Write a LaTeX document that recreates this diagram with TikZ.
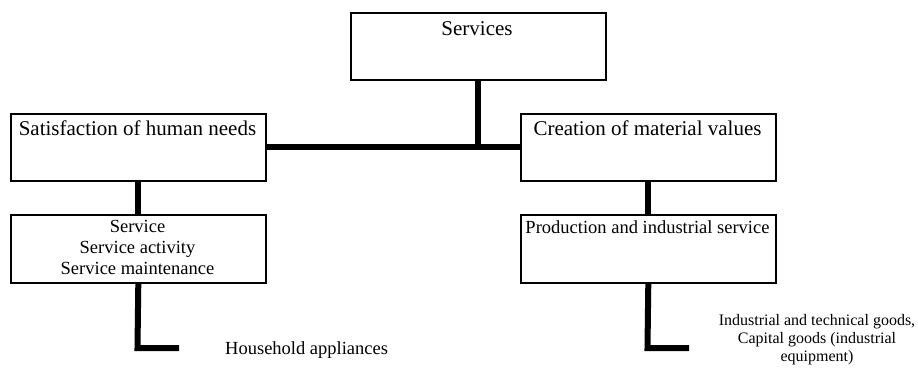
\documentclass[tikz,border=0pt]{standalone}
\usepackage{fontspec}
\setmainfont{Liberation Serif}
\begin{document}
\begin{tikzpicture}[x=1pt,y=-1pt,
  box/.style={draw, line width=1.6pt, minimum width=255pt, minimum height=67pt, inner sep=0pt, anchor=north west},
  big/.style={font=\fontsize{21}{24}\selectfont, inner sep=0pt, anchor=north},
  mid/.style={font=\fontsize{18.5}{21}\selectfont, inner sep=0pt, align=center, anchor=north},
  small/.style={font=\fontsize{16}{18}\selectfont, inner sep=0pt, align=center, anchor=north},
  conn/.style={line width=6pt}]
\useasboundingbox (0,0) rectangle (918,368);
% boxes
\node[box] (srv) at (350,12) {};
\node[box] (sat) at (10,113) {};
\node[box] (cre) at (520,113) {};
\node[box, minimum height=68pt] (svc) at (10,214) {};
\node[box, minimum height=68pt] (prd) at (520,214) {};
% box texts
\node[big] (srvt) at (477,21) {Services};
\node[big] (satt) at (137.5,121) {Satisfaction of human needs};
\node[big] (cret) at (647.5,121) {Creation of material values};
\node[mid] (svct) at (137.5,220) {Service\\Service activity\\Service maintenance};
\node[mid] (prdt) at (647.5,220) {Production and industrial service};
% connectors
\draw[conn] (srv.south) -- (srv.south |- sat.east);
\draw[conn] (sat.east) -- (cre.west);
\draw[conn] (sat.south) -- (svc.north);
\draw[conn] (cre.south) -- (prd.north);
\coordinate (l1) at (137.5,348);
\coordinate (l1e) at (179,348);
\coordinate (l2) at (647.5,348);
\coordinate (l2e) at (689,348);
\draw[conn] (svc.south) -- (l1) -- (l1e);
\draw[conn] (prd.south) -- (l2) -- (l2e);
% leaf texts
\node[mid, anchor=base west] (hh) at (225,354) {Household appliances};
\node[small] (ind) at (817,314) {Industrial and technical goods,\\Capital goods (industrial\\equipment)};
\end{tikzpicture}
\end{document}
